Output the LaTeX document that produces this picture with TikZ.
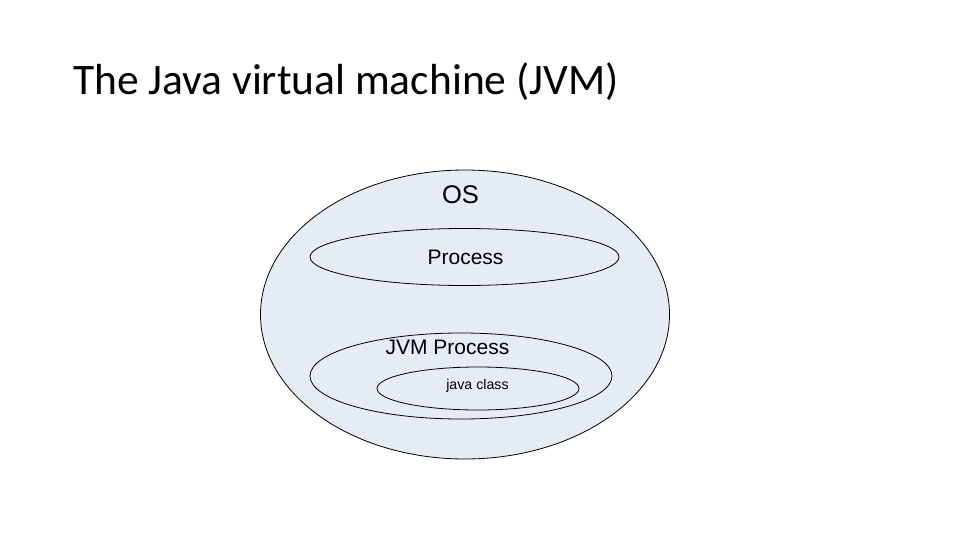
\documentclass[tikz,border=0pt]{standalone}
\usepackage{fontspec}
\setmainfont{Carlito}
\newfontfamily\arialf{Liberation Sans}
\usetikzlibrary{shapes.geometric}
\definecolor{osfill}{HTML}{E6ECF6}
\tikzset{
  ring/.style={draw=black, line width=0.8pt},
  lbl/.style={font=\arialf, inner sep=0pt},
}
\begin{document}
\begin{tikzpicture}[x=1pt,y=-1pt]
\useasboundingbox (0,0) rectangle (960,540);
\fill[white] (0,0) rectangle (960,540);
% title
\node[anchor=base west, inner sep=0pt, font=\fontsize{43.5}{52}\selectfont] (title) at (73,95) {The Java virtual machine (JVM)};
% OS
\draw[ring, fill=osfill] (465,314.5) ellipse [x radius=204.5, y radius=144.5];
\coordinate (os) at (465,314.5);
\node[lbl, font=\arialf\fontsize{25.5}{30}\selectfont] (oslbl) at (460.5,195) {OS};
% Process
\draw[ring] (464.5,257) ellipse [x radius=154.5, y radius=28.5];
\node[lbl, font=\arialf\fontsize{21}{25}\selectfont] (proc) at (465.5,257) {Process};
% JVM process
\draw[ring] (461,376) ellipse [x radius=151, y radius=43];
\node[lbl, font=\arialf\fontsize{21}{25}\selectfont] (jvm) at (447.5,347.5) {JVM Process};
% java class
\draw[ring] (478,388.5) ellipse [x radius=101, y radius=21.5];
\node[lbl, font=\arialf\fontsize{14.2}{17}\selectfont] (jc) at (477.5,386) {java class};
\end{tikzpicture}
\end{document}
